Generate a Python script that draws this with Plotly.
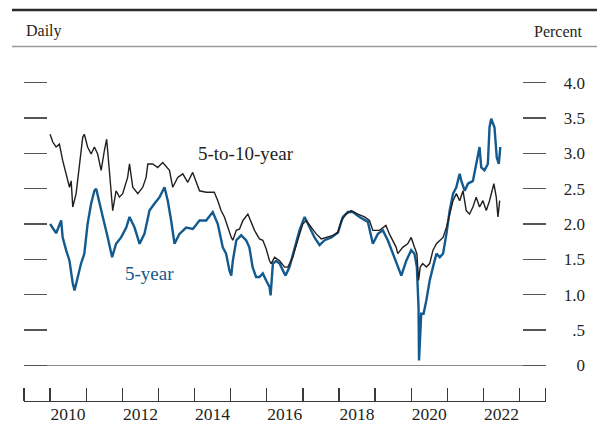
import plotly.graph_objects as go

# ---------------- data ----------------
five_year_dates = [
    "2010-01-01", "2010-02-15", "2010-03-03", "2010-04-23", "2010-05-08", "2010-06-12",
    "2010-07-16", "2010-08-18", "2010-09-05", "2010-10-08", "2010-11-10", "2010-12-13",
    "2011-01-15", "2011-02-20", "2011-03-25", "2011-04-12", "2011-05-15", "2011-06-18",
    "2011-08-07", "2011-09-20", "2011-10-30", "2011-12-20", "2012-02-10", "2012-03-14",
    "2012-05-04", "2012-06-24", "2012-08-12", "2012-10-02", "2012-11-22", "2013-01-12",
    "2013-03-03", "2013-04-05", "2013-05-09", "2013-06-12", "2013-08-01", "2013-10-08",
    "2013-12-15", "2014-02-20", "2014-04-28", "2014-07-04", "2014-08-24", "2014-10-13",
    "2014-11-16", "2014-12-20", "2015-01-07", "2015-01-23", "2015-02-27", "2015-04-17",
    "2015-06-06", "2015-07-09", "2015-08-11", "2015-09-15", "2015-10-19", "2015-11-22",
    "2015-12-26", "2016-01-29", "2016-02-09", "2016-03-03", "2016-04-06", "2016-05-10",
    "2016-06-13", "2016-07-09", "2016-08-18", "2016-10-07", "2016-11-27", "2017-01-18",
    "2017-03-10", "2017-04-28", "2017-06-18", "2017-08-08", "2017-10-15", "2017-12-21",
    "2018-02-09", "2018-04-01", "2018-05-20", "2018-07-27", "2018-10-20", "2018-12-09",
    "2019-01-29", "2019-03-20", "2019-05-09", "2019-06-28", "2019-08-02", "2019-09-23",
    "2019-11-12", "2020-01-01", "2020-02-03", "2020-02-27", "2020-03-15", "2020-03-20",
    "2020-04-11", "2020-05-05", "2020-06-02", "2020-07-06", "2020-08-08", "2020-09-12",
    "2020-10-16", "2020-11-18", "2020-12-22", "2021-01-24", "2021-02-27", "2021-04-01",
    "2021-05-05", "2021-05-22", "2021-06-25", "2021-07-28", "2021-09-16", "2021-11-05",
    "2021-11-22", "2021-12-09", "2022-01-11", "2022-02-14", "2022-03-03", "2022-03-20",
    "2022-04-22", "2022-05-15", "2022-06-05", "2022-06-20",
]
five_year_values = [
    2.00, 1.91, 1.87, 2.05, 1.81, 1.63,
    1.48, 1.16, 1.06, 1.25, 1.44, 1.58,
    2.00, 2.29, 2.47, 2.50, 2.29, 2.10,
    1.81, 1.53, 1.72, 1.81, 1.95, 2.10,
    1.95, 1.72, 1.86, 2.19, 2.29, 2.38,
    2.52, 2.33, 2.05, 1.72, 1.86, 1.95,
    1.93, 2.05, 2.05, 2.17, 2.00, 1.67,
    1.58, 1.34, 1.27, 1.48, 1.77, 1.84,
    1.77, 1.67, 1.39, 1.25, 1.25, 1.30,
    1.20, 1.11, 0.99, 1.44, 1.48, 1.44,
    1.34, 1.27, 1.39, 1.63, 1.91, 2.10,
    1.95, 1.81, 1.70, 1.77, 1.81, 1.88,
    2.10, 2.17, 2.17, 2.10, 2.03, 1.72,
    1.86, 1.91, 1.77, 1.58, 1.44, 1.27,
    1.48, 1.63, 1.58, 1.39, 0.82, 0.07,
    0.73, 0.73, 0.92, 1.20, 1.39, 1.58,
    1.53, 1.58, 1.86, 2.19, 2.43, 2.52,
    2.71, 2.61, 2.47, 2.57, 2.61, 2.94,
    3.09, 2.80, 2.76, 2.85, 3.37, 3.49,
    3.37, 2.94, 2.85, 3.09,
]

fwd_dates = [
    "2010-01-01", "2010-01-28", "2010-03-03", "2010-04-05", "2010-05-08", "2010-06-12",
    "2010-07-16", "2010-08-02", "2010-08-18", "2010-09-21", "2010-10-24", "2010-11-27",
    "2010-12-13", "2011-01-15", "2011-02-20", "2011-03-25", "2011-04-27", "2011-06-01",
    "2011-07-04", "2011-07-27", "2011-08-23", "2011-09-09", "2011-09-26", "2011-10-30",
    "2011-12-03", "2012-01-05", "2012-02-24", "2012-03-14", "2012-04-16", "2012-06-06",
    "2012-07-26", "2012-08-29", "2012-09-15", "2012-11-04", "2012-12-24", "2013-02-13",
    "2013-03-19", "2013-04-22", "2013-05-25", "2013-07-15", "2013-09-04", "2013-10-24",
    "2013-12-13", "2014-01-17", "2014-02-20", "2014-04-28", "2014-07-19", "2014-08-24",
    "2014-09-26", "2014-10-30", "2014-12-02", "2015-01-07", "2015-01-23", "2015-02-27",
    "2015-04-01", "2015-05-05", "2015-06-24", "2015-07-28", "2015-08-30", "2015-10-19",
    "2015-11-22", "2015-12-26", "2016-01-29", "2016-02-15", "2016-03-20", "2016-05-10",
    "2016-06-29", "2016-08-01", "2016-09-20", "2016-11-09", "2016-12-30", "2017-02-03",
    "2017-03-25", "2017-05-15", "2017-07-05", "2017-08-24", "2017-10-31", "2017-12-21",
    "2018-01-24", "2018-03-14", "2018-05-04", "2018-07-10", "2018-09-16", "2018-11-05",
    "2018-12-09", "2019-02-14", "2019-04-20", "2019-05-25", "2019-08-02", "2019-08-18",
    "2019-10-07", "2019-11-26", "2020-01-01", "2020-02-03", "2020-02-27", "2020-03-15",
    "2020-04-01", "2020-04-27", "2020-06-02", "2020-07-06", "2020-08-08", "2020-09-12",
    "2020-10-16", "2020-11-18", "2020-12-22", "2021-01-24", "2021-02-27", "2021-04-01",
    "2021-05-05", "2021-06-08", "2021-07-10", "2021-08-13", "2021-09-16", "2021-10-19",
    "2021-11-22", "2021-12-26", "2022-01-29", "2022-03-03", "2022-04-16", "2022-05-10",
    "2022-05-27", "2022-06-14",
]
fwd_values = [
    3.27, 3.16, 3.09, 3.13, 2.90, 2.71,
    2.52, 2.61, 2.24, 2.43, 2.80, 3.23,
    3.27, 3.09, 2.99, 3.09, 2.99, 2.76,
    3.04, 3.20, 2.76, 2.47, 2.19, 2.47,
    2.38, 2.43, 2.66, 2.85, 2.52, 2.43,
    2.52, 2.66, 2.85, 2.85, 2.80, 2.87,
    2.82, 2.76, 2.52, 2.66, 2.71, 2.59,
    2.73, 2.61, 2.47, 2.45, 2.45, 2.33,
    2.19, 2.10, 1.95, 1.81, 1.77, 1.91,
    1.93, 2.05, 2.14, 2.03, 1.91, 1.79,
    1.77, 1.65, 1.48, 1.44, 1.53, 1.48,
    1.39, 1.39, 1.53, 1.77, 2.00, 2.05,
    1.95, 1.86, 1.79, 1.81, 1.84, 1.88,
    2.05, 2.14, 2.19, 2.14, 2.10, 2.05,
    1.91, 1.91, 1.98, 1.86, 1.67, 1.58,
    1.67, 1.72, 1.81, 1.67, 1.58, 1.20,
    1.39, 1.44, 1.39, 1.44, 1.63, 1.72,
    1.77, 1.81, 1.95, 2.14, 2.33, 2.43,
    2.33, 2.47, 2.19, 2.14, 2.24, 2.38,
    2.24, 2.33, 2.19, 2.33, 2.57, 2.38,
    2.10, 2.33,
]

y_tick_values = [0, 0.5, 1.0, 1.5, 2.0, 2.5, 3.0, 3.5, 4.0]
y_tick_labels = ["0", ".5", "1.0", "1.5", "2.0", "2.5", "3.0", "3.5", "4.0"]
year_label_positions = ["2010-07-02", "2012-07-02", "2014-07-02", "2016-07-02",
                        "2018-07-02", "2020-07-02", "2022-07-02"]
year_labels = ["2010", "2012", "2014", "2016", "2018", "2020", "2022"]
year_boundaries = [f"{y}-01-01" for y in range(2010, 2024)]
x_range = ["2009-04-12", "2023-09-21"]
y_range = [-0.505, 4.321]

# ---------------- layout geometry ----------------
W, H = 597, 426
ML, MR, MT, MB = 24, 8, 60, 25
PW = W - ML - MR
PH = H - MT - MB
plot_right = 545.6
x_dom_end = (plot_right - ML) / PW


def px_x(x):
    return (x - ML) / PW


def px_y(y):
    return (H - MB - y) / PH


SERIF = "Liberation Serif, Times New Roman, serif"
TXT = "#231f20"
BLUE = "#135a8e"

fig = go.Figure()
fig.add_trace(go.Scatter(x=five_year_dates, y=five_year_values, mode="lines",
                         line=dict(color=BLUE, width=2.4), name="5-year",
                         hoverinfo="skip"))
fig.add_trace(go.Scatter(x=fwd_dates, y=fwd_values, mode="lines",
                         line=dict(color=TXT, width=1.4), name="5-to-10-year",
                         hoverinfo="skip"))
# invisible trace for the right-hand label axis
fig.add_trace(go.Scatter(x=[five_year_dates[0]], y=[five_year_values[0]], yaxis="y2",
                         mode="lines", line=dict(width=0), showlegend=False,
                         hoverinfo="skip"))

fig.update_layout(
    width=W, height=H,
    margin=dict(l=ML, r=MR, t=MT, b=MB, autoexpand=False),
    paper_bgcolor="white", plot_bgcolor="white",
    showlegend=False,
    font=dict(family=SERIF, color=TXT),
    xaxis=dict(
        type="date", range=x_range, domain=[0, x_dom_end], automargin=False,
        showgrid=False, zeroline=False,
        showline=True, linecolor="#3a3a3a", linewidth=1.3,
        tickmode="array", tickvals=year_label_positions, ticktext=year_labels,
        ticks="", ticklabelstandoff=-3,
        tickfont=dict(family=SERIF, size=17.5, color=TXT),
        minor=dict(tickmode="array", tickvals=year_boundaries + x_range,
                   ticks="inside", ticklen=13, tickcolor="#3a3a3a", tickwidth=1.3,
                   showgrid=False),
    ),
    yaxis=dict(
        range=y_range, showgrid=False, automargin=False,
        zeroline=True, zerolinecolor="#8a8a8a", zerolinewidth=1.6,
        showline=False, showticklabels=False,
        tickmode="array", tickvals=y_tick_values,
        ticks="inside", ticklen=23, tickcolor="#555555", tickwidth=1.3,
        mirror="ticks",
    ),
    yaxis2=dict(
        range=y_range, overlaying="y", anchor="free", position=1.0, side="left",
        automargin=False,
        showgrid=False, zeroline=False, showline=False, ticks="",
        tickmode="array", tickvals=y_tick_values, ticktext=y_tick_labels,
        ticklabelstandoff=4,
        tickfont=dict(family=SERIF, size=17, color=TXT),
    ),
)

# header rules
fig.add_shape(type="line", xref="paper", yref="paper",
              x0=px_x(12), x1=px_x(597), y0=px_y(10), y1=px_y(10),
              line=dict(color="#2a2a2a", width=2.6))
fig.add_shape(type="line", xref="paper", yref="paper",
              x0=px_x(12), x1=px_x(597), y0=px_y(46.5), y1=px_y(46.5),
              line=dict(color="#9a9a9a", width=1.3))

# header text
fig.add_annotation(text="Daily", xref="paper", yref="paper",
                   x=px_x(24), y=px_y(31), xanchor="left", yanchor="middle",
                   showarrow=False, font=dict(family=SERIF, size=16, color=TXT))
fig.add_annotation(text="Percent", xref="paper", yref="paper",
                   x=px_x(585), y=px_y(31), xanchor="right", yanchor="middle",
                   showarrow=False, font=dict(family=SERIF, size=16, color=TXT))

# series labels
fig.add_annotation(text="5-to-10-year", x="2014-01-15", y=3.0, xref="x", yref="y",
                   xanchor="left", yanchor="middle", showarrow=False,
                   font=dict(family=SERIF, size=19, color=TXT))
fig.add_annotation(text="5-year", x="2012-01-08", y=1.30, xref="x", yref="y",
                   xanchor="left", yanchor="middle", showarrow=False,
                   font=dict(family=SERIF, size=19, color=BLUE))

fig.write_html(
    "out.html",
    config={"displayModeBar": False, "staticPlot": True},
    post_script="document.body.style.margin='0';document.body.style.padding='0';",
)
